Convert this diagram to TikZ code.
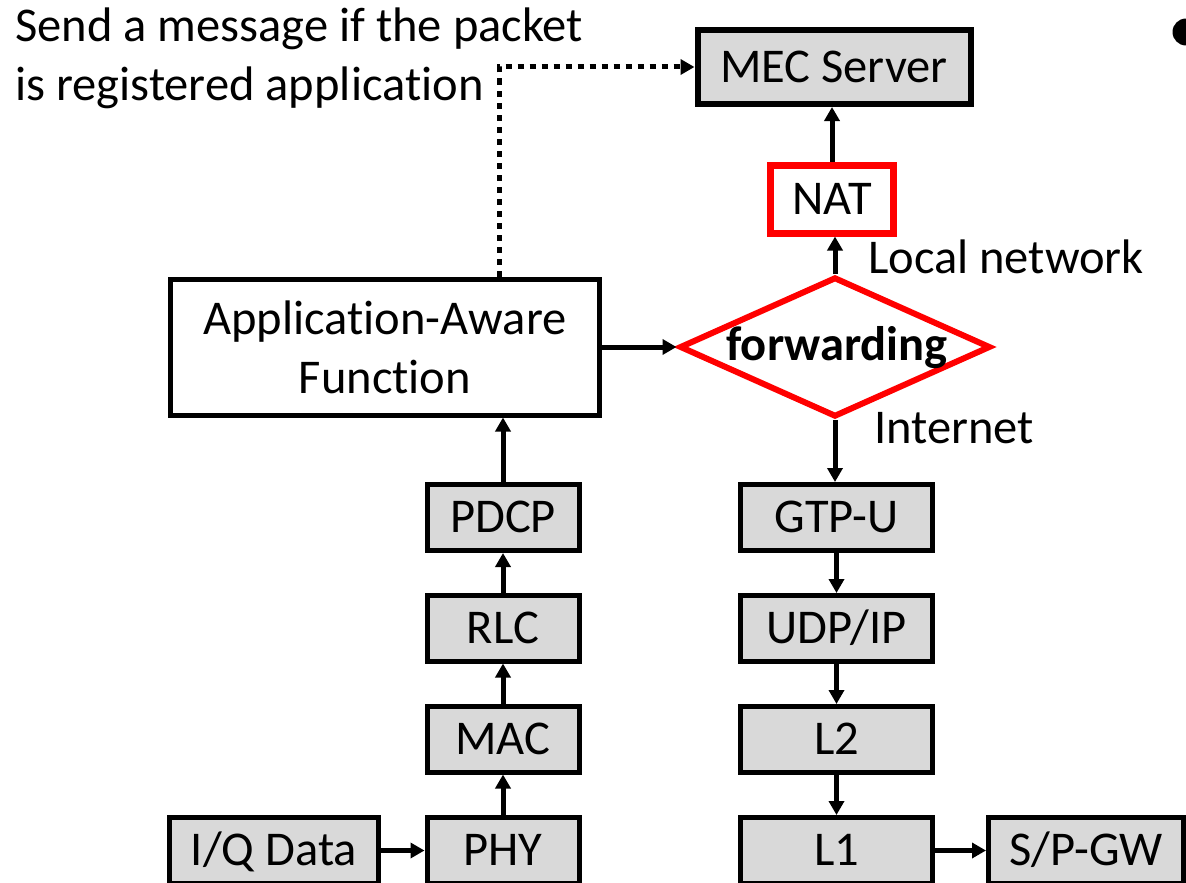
\documentclass[tikz,border=0pt]{standalone}
\usepackage{fontspec}
\setmainfont{Carlito}[Ligatures=NoCommon]
\usetikzlibrary{arrows.meta,shapes.geometric}
\definecolor{boxgray}{HTML}{D9D9D9}
\definecolor{nred}{HTML}{FF0000}
\begin{document}
\begin{tikzpicture}[x=1pt,y=-1pt,
  font=\fontsize{48.5pt}{59pt}\selectfont,
  layer/.style={draw=black, fill=boxgray, line width=5pt, minimum height=66pt,
    inner sep=0pt, text height=30pt, text depth=0pt},
  arr/.style={line width=5pt, -{Triangle[length=14pt,width=15pt]}},
  lbl/.style={anchor=base west, inner sep=0pt}]
\useasboundingbox (0,0) rectangle (1186,883);

% top
\node[layer, minimum width=273pt, minimum height=74pt, line width=6pt] (mec) at (834,67) {MEC Server};
\node[draw=nred, fill=white, line width=7pt, minimum width=123pt, minimum height=68pt,
  inner sep=0pt, text height=30pt, text depth=0pt] (nat) at (832,199) {NAT};
\node[diamond, draw=nred, line width=6pt, minimum width=311pt, minimum height=140pt, inner sep=0pt] (fwd) at (835,347) {};
\node[font=\fontsize{48.5pt}{59pt}\selectfont\bfseries, inner sep=0pt] (fwdtext) at (837,348) {forwarding};

% application-aware function
\node[draw, line width=5pt, fill=white, minimum width=429pt, minimum height=136pt,
  align=center, inner sep=0pt] (app) at (385,347) {Application-Aware\\Function};

% left stack
\node[layer, minimum width=152pt] (pdcp) at (503,517.5) {PDCP};
\node[layer, minimum width=152pt] (rlc) at (503,628) {RLC};
\node[layer, minimum width=152pt] (mac) at (503,739) {MAC};
\node[layer, minimum width=152pt] (phy) at (503,850.5) {PHY};
\node[layer, minimum width=209pt] (iq) at (274,850.5) {I/Q Data};

% right stack
\node[layer, minimum width=192pt] (gtp) at (836.5,517.5) {GTP-U};
\node[layer, minimum width=192pt] (udp) at (836.5,628.5) {UDP/IP};
\node[layer, minimum width=192pt] (l2) at (836.5,739.5) {L2};
\node[layer, minimum width=192pt] (l1) at (836.5,850.5) {L1};
\node[layer, minimum width=195pt] (sgw) at (1086,850.5) {S/P-GW};

% labels
\node[lbl] (lnet) at (868,273) {Local network};
\node[lbl] (inet) at (874,443) {Internet};
\node[lbl] (msg1) at (15,42) {Send a message if the packet};
\node[lbl] (msg2) at (15,100) {is registered application};
\node[circle, fill=black, minimum size=27pt, inner sep=0pt] (bullet) at (1186,32) {};

% connectors
\draw[arr] (iq) -- (phy);
\draw[arr] (phy) -- (mac);
\draw[arr] (mac) -- (rlc);
\draw[arr] (rlc) -- (pdcp);
\draw[arr] (pdcp.north) -- (pdcp.north |- app.south);
\draw[arr] (app.east) -- (app.east -| fwd.west);
\draw[arr] (fwd.north) -- (fwd.north |- nat.south);
\draw[arr] (nat.north) -- (nat.north |- mec.south);
\draw[arr] (fwd.south) -- (fwd.south |- gtp.north);
\draw[arr] (gtp) -- (udp);
\draw[arr] (udp) -- (l2);
\draw[arr] (l2) -- (l1);
\draw[arr] (l1) -- (sgw);

\coordinate (bend) at (499,67);
\draw[line width=5pt, dash pattern=on 6pt off 6pt, -{Triangle[length=14pt,width=15pt]}]
  (app.north -| bend) |- (mec.west);
\end{tikzpicture}
\end{document}
